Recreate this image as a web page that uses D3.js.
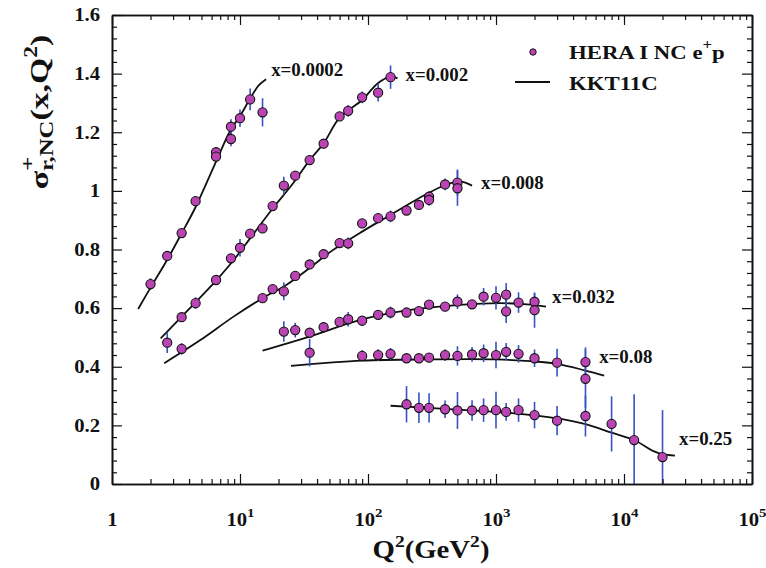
<!DOCTYPE html>
<html>
<head>
<meta charset="utf-8">
<script src="https://cdn.jsdelivr.net/npm/d3@7"></script>
<style>
  body { margin: 0; background: #fff; }
  svg text { font-family: 'Liberation Serif', 'Times New Roman', serif; font-weight: bold; fill: #111; }
</style>
</head>
<body>
<svg id="canvas"></svg>
<script>
/** Data: Q2 (GeV^2), reduced cross section, error */
let seriesLabels = ['x=0.0002', 'x=0.002', 'x=0.008', 'x=0.032', 'x=0.08', 'x=0.25'];

let q2_0002  = [2, 2.7, 3.5, 4.5, 6.5, 6.5, 8.5, 8.5, 10, 12, 15];
let sig_0002 = [0.682, 0.778, 0.856, 0.965, 1.132, 1.117, 1.219, 1.177, 1.248, 1.312, 1.268];
let err_0002 = [0.02, 0.015, 0.01, 0.01, 0.015, 0.015, 0.025, 0.025, 0.03, 0.037, 0.048];

let q2_002  = [2.7, 3.5, 4.5, 6.5, 8.5, 10, 12, 15, 18, 22, 27, 35, 45, 60, 70, 90, 120, 150];
let sig_002 = [0.482, 0.569, 0.617, 0.696, 0.770, 0.806, 0.854, 0.872, 0.948, 1.018, 1.052, 1.105, 1.161, 1.254, 1.273, 1.319, 1.335, 1.388];
let err_002 = [0.035, 0.015, 0.02, 0.01, 0.015, 0.03, 0.015, 0.015, 0.015, 0.03, 0.015, 0.015, 0.015, 0.015, 0.02, 0.02, 0.03, 0.04];

let q2_008  = [3.5, 15, 18, 22, 27, 35, 45, 60, 70, 90, 120, 150, 200, 250, 300, 300, 400, 500, 500];
let sig_008 = [0.461, 0.634, 0.665, 0.657, 0.710, 0.749, 0.784, 0.822, 0.821, 0.889, 0.907, 0.913, 0.933, 0.952, 0.980, 0.969, 1.022, 1.028, 1.009];
let err_008 = [0.02, 0.01, 0.01, 0.03, 0.01, 0.01, 0.01, 0.01, 0.02, 0.015, 0.015, 0.02, 0.015, 0.015, 0.02, 0.02, 0.02, 0.045, 0.06];

let q2_032  = [22, 27, 35, 45, 60, 70, 90, 120, 150, 200, 250, 300, 400, 500, 650, 800, 1000, 1200, 1200, 1500, 2000, 2000];
let sig_032 = [0.520, 0.525, 0.516, 0.535, 0.553, 0.562, 0.557, 0.577, 0.585, 0.585, 0.590, 0.612, 0.605, 0.622, 0.613, 0.639, 0.635, 0.646, 0.589, 0.619, 0.622, 0.593];
let err_032 = [0.035, 0.025, 0.01, 0.015, 0.01, 0.025, 0.01, 0.015, 0.02, 0.01, 0.015, 0.015, 0.01, 0.025, 0.015, 0.03, 0.04, 0.04, 0.04, 0.035, 0.03, 0.06];

let q2_08  = [35, 90, 120, 150, 200, 250, 300, 400, 500, 650, 800, 1000, 1200, 1500, 2000, 3000, 5000, 5000];
let sig_08 = [0.448, 0.437, 0.440, 0.444, 0.429, 0.429, 0.431, 0.440, 0.437, 0.442, 0.446, 0.440, 0.451, 0.444, 0.429, 0.414, 0.416, 0.359];
let err_08 = [0.047, 0.02, 0.02, 0.02, 0.01, 0.01, 0.01, 0.02, 0.033, 0.025, 0.03, 0.045, 0.03, 0.03, 0.03, 0.047, 0.05, 0.1];

let q2_25  = [200, 250, 300, 400, 500, 650, 800, 1000, 1200, 1500, 2000, 3000, 5000, 8000, 12000, 20000];
let sig_25 = [0.272, 0.260, 0.260, 0.255, 0.251, 0.251, 0.252, 0.252, 0.246, 0.252, 0.235, 0.216, 0.232, 0.205, 0.150, 0.092];
let err_25 = [0.062, 0.052, 0.05, 0.03, 0.063, 0.035, 0.04, 0.063, 0.03, 0.04, 0.045, 0.05, 0.07, 0.094, 0.156, 0.16];

/** KKT11C curves */
let fitQ2_0002 = [1.6, 2, 2.7, 3.5, 4.5, 6.5, 8.5, 10, 12, 14, 16];
let fit_0002   = [0.597, 0.67, 0.765, 0.855, 0.945, 1.10, 1.21, 1.255, 1.315, 1.36, 1.381];

let fitQ2_002 = [2.4, 3.5, 4.5, 6.5, 9, 12, 18, 26, 35, 45, 60, 90, 120, 150, 170];
let fit_002   = [0.497, 0.571, 0.62, 0.694, 0.766, 0.838, 0.94, 1.026, 1.105, 1.162, 1.25, 1.31, 1.368, 1.39, 1.384];

let fitQ2_008 = [2.56, 4.9, 8.9, 15, 23, 37, 50, 90, 150, 250, 400, 500, 560, 650];
let fit_008   = [0.412, 0.491, 0.571, 0.634, 0.679, 0.745, 0.79, 0.861, 0.918, 0.975, 1.02, 1.031, 1.03, 1.018];

let fitQ2_032 = [15, 35, 87, 213, 520, 1070, 1750, 2460];
let fit_032   = [0.455, 0.503, 0.560, 0.594, 0.611, 0.617, 0.613, 0.605];

let fitQ2_08 = [25, 90, 300, 1000, 2000, 3000, 5000, 7000];
let fit_08   = [0.403, 0.421, 0.425, 0.425, 0.418, 0.41, 0.387, 0.370];

let fitQ2_25 = [150, 400, 1400, 3000, 5000, 8000, 12000, 17000, 20000, 25000];
let fit_25   = [0.267, 0.256, 0.241, 0.224, 0.204, 0.175, 0.150, 0.112, 0.102, 0.097];

let xMajor = [1, 10, 100, 1000, 10000, 100000];
let yMajor = [0, 0.2, 0.4, 0.6, 0.8, 1, 1.2, 1.4, 1.6];

let legendLabels = ['HERA I NC e', 'KKT11C'];

/** Layout */
let width = 766;
let height = 568;
let padLeft = 112, padRight = 752, padTop = 15, padBottom = 484;

let pointColor = '#bb44b4';
let barColor = '#3553c4';

// label offset from the last curve point (dx, dy)
let labelOffset = [[5, -3], [8, 3], [9, 3], [6, -4], [-5, -13], [4, -11]];

let canvas = d3.select('#canvas');

let xScale;
let yScale;

/** the original type is set wider than Liberation Serif: stretch around the anchor */
const stretchText = (sel, k) => {
    sel.each(function () {
        let t = d3.select(this);
        let x = +t.attr('x') || 0;
        let y = +t.attr('y') || 0;
        t.attr('x', 0).attr('y', 0)
            .attr('transform', `translate(${x}, ${y}) scale(${k}, 1)`);
    });
};

const drawCanvas = () => {
    canvas.attr('width', width);
    canvas.attr('height', height);
};

const generateScale = () => {
    xScale = d3.scaleLog()
        .domain([1, 1e5])
        .range([padLeft, padRight]);

    yScale = d3.scaleLinear()
        .domain([0, 1.6])
        .range([padBottom, padTop]);
};

const drawAxes = () => {
    let xMinor = [];
    for (let d = 1; d < 1e5; d *= 10) {
        for (let k = 2; k <= 9; k++) xMinor.push(k * d);
    }
    let yMinor = d3.range(0, 1.6001, 0.04).filter(v => Math.abs(v * 5 - Math.round(v * 5)) > 1e-6);

    // bottom
    let xAxis = d3.axisBottom(xScale).tickValues(xMajor).tickSizeInner(-10).tickSizeOuter(0).tickFormat('');
    let xAxisMinor = d3.axisBottom(xScale).tickValues(xMinor).tickSizeInner(-5).tickSizeOuter(0).tickFormat('');
    let gx = canvas.append('g').attr('transform', `translate(0, ${padBottom})`).call(xAxis);
    canvas.append('g').attr('transform', `translate(0, ${padBottom})`).call(xAxisMinor);

    // top
    canvas.append('g').attr('transform', `translate(0, ${padTop})`)
        .call(d3.axisTop(xScale).tickValues(xMajor).tickSizeInner(-10).tickSizeOuter(0).tickFormat(''));
    canvas.append('g').attr('transform', `translate(0, ${padTop})`)
        .call(d3.axisTop(xScale).tickValues(xMinor).tickSizeInner(-5).tickSizeOuter(0).tickFormat(''));

    // left
    let yAxis = d3.axisLeft(yScale).tickValues(yMajor).tickSizeInner(-10).tickSizeOuter(0).tickPadding(12)
        .tickFormat(d => d === 0 || d === 1 ? d3.format('d')(d) : d3.format('.1f')(d));
    let gy = canvas.append('g').attr('transform', `translate(${padLeft}, 0)`).call(yAxis);
    canvas.append('g').attr('transform', `translate(${padLeft}, 0)`)
        .call(d3.axisLeft(yScale).tickValues(yMinor).tickSizeInner(-5).tickSizeOuter(0).tickFormat(''));

    // right
    canvas.append('g').attr('transform', `translate(${padRight}, 0)`)
        .call(d3.axisRight(yScale).tickValues(yMajor).tickSizeInner(-10).tickSizeOuter(0).tickFormat(''));
    canvas.append('g').attr('transform', `translate(${padRight}, 0)`)
        .call(d3.axisRight(yScale).tickValues(yMinor).tickSizeInner(-5).tickSizeOuter(0).tickFormat(''));

    canvas.selectAll('.domain').attr('stroke', '#111').attr('stroke-width', 1.6);
    canvas.selectAll('.tick line').attr('stroke', '#111').attr('stroke-width', 1.2);

    let yLabels = gy.selectAll('.tick text')
        .attr('font-size', 18)
        .style('font-family', "'Liberation Serif', serif")
        .style('font-weight', 'bold');
    stretchText(yLabels, 1.15);

    // x tick labels as powers of ten
    gx.selectAll('.tick').each(function (d) {
        let t = d3.select(this).append('text')
            .attr('y', 42)
            .attr('text-anchor', 'middle')
            .attr('font-size', 18)
            .attr('fill', '#111');
        if (d === 1) {
            t.text('1');
        } else {
            t.append('tspan').text('10');
            t.append('tspan').attr('font-size', 13).attr('dy', -9).text(Math.round(Math.log10(d)));
        }
        stretchText(t, 1.15);
    });

    // axis titles
    let xt = canvas.append('text')
        .attr('x', 431)
        .attr('y', 558)
        .attr('text-anchor', 'middle')
        .attr('font-size', 25);
    xt.append('tspan').text('Q');
    xt.append('tspan').attr('font-size', 17).attr('dy', -11).text('2');
    xt.append('tspan').attr('dy', 11).text('(GeV');
    xt.append('tspan').attr('font-size', 17).attr('dy', -11).text('2');
    xt.append('tspan').attr('dy', 11).text(')');
    stretchText(xt, 1.15);

    let yt = canvas.append('text')
        .attr('transform', 'translate(48, 112) rotate(-90) scale(1.3, 1)')
        .attr('text-anchor', 'middle')
        .attr('font-size', 26);
    yt.append('tspan').text('σ');
    yt.append('tspan').attr('font-size', 19).attr('dy', -14).text('+');
    yt.append('tspan').attr('font-size', 19).attr('dx', -11).attr('dy', 19).text('r,NC');
    yt.append('tspan').attr('dy', -5).text('(x,Q');
    yt.append('tspan').attr('font-size', 18).attr('dy', -11).text('2');
    yt.append('tspan').attr('dy', 11).text(')');
};

const drawSeries = () => {
    let points = [
        [q2_0002, sig_0002, err_0002],
        [q2_002, sig_002, err_002],
        [q2_008, sig_008, err_008],
        [q2_032, sig_032, err_032],
        [q2_08, sig_08, err_08],
        [q2_25, sig_25, err_25]
    ];
    let fits = [
        [fitQ2_0002, fit_0002],
        [fitQ2_002, fit_002],
        [fitQ2_008, fit_008],
        [fitQ2_032, fit_032],
        [fitQ2_08, fit_08],
        [fitQ2_25, fit_25]
    ];

    canvas.append('clipPath').attr('id', 'clip')
        .append('rect')
        .attr('x', padLeft).attr('y', padTop)
        .attr('width', padRight - padLeft).attr('height', padBottom - padTop);

    let plot = canvas.append('g').attr('clip-path', 'url(#clip)');

    let line = d3.line()
        .x(d => xScale(d[0]))
        .y(d => yScale(d[1]))
        .curve(d3.curveCatmullRom.alpha(0.5));

    fits.forEach(([qs, vs]) => {
        plot.append('path')
            .datum(qs.map((q, i) => [q, vs[i]]))
            .attr('d', line)
            .attr('fill', 'none')
            .attr('stroke', '#111')
            .attr('stroke-width', 1.8);
    });

    let all = [];
    points.forEach(([qs, vs, es]) => {
        qs.forEach((q, i) => all.push({ q: q, v: vs[i], e: es[i] }));
    });

    plot.selectAll('.err')
        .data(all)
        .enter()
        .append('line')
        .attr('class', 'err')
        .attr('x1', d => xScale(d.q))
        .attr('x2', d => xScale(d.q))
        .attr('y1', d => yScale(d.v - d.e))
        .attr('y2', d => yScale(d.v + d.e))
        .attr('stroke', barColor)
        .attr('stroke-width', 1.6);

    plot.selectAll('.pt')
        .data(all)
        .enter()
        .append('circle')
        .attr('class', 'pt')
        .attr('cx', d => xScale(d.q))
        .attr('cy', d => yScale(d.v))
        .attr('r', 4.6)
        .attr('fill', pointColor)
        .attr('stroke', '#111')
        .attr('stroke-width', 1.1);

    // series labels at the end of each curve
    fits.forEach(([qs, vs], i) => {
        let n = qs.length - 1;
        let t = canvas.append('text')
            .attr('x', xScale(qs[n]) + labelOffset[i][0])
            .attr('y', yScale(vs[n]) + labelOffset[i][1])
            .attr('font-size', 18)
            .text(seriesLabels[i]);
        stretchText(t, 1.05);
    });
};

const drawLegend = () => {
    let lg = canvas.append('g');
    lg.append('circle')
        .attr('cx', 533).attr('cy', 52).attr('r', 3.2)
        .attr('fill', pointColor).attr('stroke', '#111').attr('stroke-width', 1);
    let t1 = lg.append('text').attr('x', 569).attr('y', 59).attr('font-size', 19);
    t1.append('tspan').text(legendLabels[0]);
    t1.append('tspan').attr('font-size', 14).attr('dy', -10).text('+');
    t1.append('tspan').attr('dy', 10).text('p');
    stretchText(t1, 1.2);

    lg.append('line')
        .attr('x1', 515).attr('x2', 550).attr('y1', 82).attr('y2', 82)
        .attr('stroke', '#111').attr('stroke-width', 1.8);
    let t2 = lg.append('text').attr('x', 569).attr('y', 90).attr('font-size', 19).text(legendLabels[1]);
    stretchText(t2, 1.2);
};

window.onload = () => {
    drawCanvas();
    generateScale();
    drawSeries();
    drawAxes();
    drawLegend();
};
</script>
</body>
</html>
